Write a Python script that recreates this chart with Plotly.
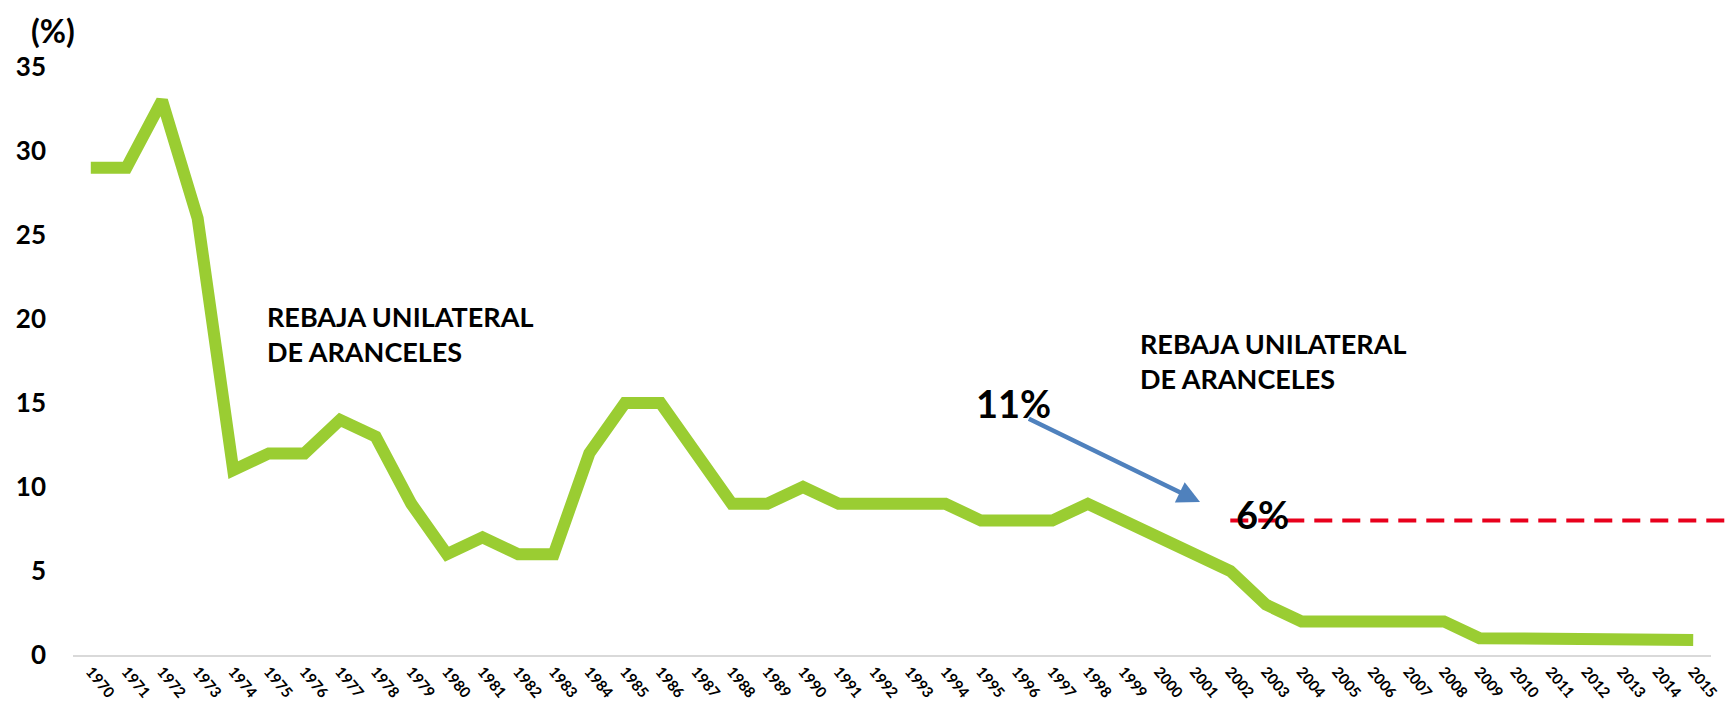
import plotly.graph_objects as go

years = [str(y) for y in range(1970, 2016)]
tariff = [29, 29, 33, 26, 11, 12, 12, 14, 13, 9, 6, 7, 6, 6, 12, 15, 15, 12, 9, 9,
          10, 9, 9, 9, 9, 8, 8, 8, 9, 8, 7, 6, 5, 3, 2, 2, 2, 2, 2, 1,
          1, 1, 1, 1, 0.9, 0.9]
y_ticks = [0, 5, 10, 15, 20, 25, 30, 35]
target_level = 8
target_start = "2002"

FONT = "Lato"
GREEN = "#9ACD32"

fig = go.Figure()
fig.add_trace(go.Scatter(
    x=years, y=tariff, mode="lines",
    line=dict(color=GREEN, width=12, shape="linear"),
    hoverinfo="x+y", showlegend=False,
))

n = len(years)
x0_paper = (years.index(target_start) + 0.5) / n
fig.add_shape(type="line", xref="paper", yref="y",
              x0=x0_paper, x1=1.02, y0=target_level, y1=target_level,
              line=dict(color="#E8001C", width=4, dash="18px,10px"))

annos = [
    dict(text="<b>(%)</b>", xref="paper", yref="paper", x=-0.012, y=1.062,
         xanchor="center", yanchor="middle", showarrow=False,
         font=dict(size=32, family=FONT, color="black")),
    dict(text="<b>REBAJA UNILATERAL<br>DE ARANCELES</b>", xref="x", yref="y",
         x=4.9, y=19.1, xanchor="left", yanchor="middle", align="left", showarrow=False,
         font=dict(size=27, family=FONT, color="black")),
    dict(text="<b>REBAJA UNILATERAL<br>DE ARANCELES</b>", xref="x", yref="y",
         x=29.4, y=17.5, xanchor="left", yanchor="middle", align="left", showarrow=False,
         font=dict(size=27, family=FONT, color="black")),
    dict(text="<b>11%</b>", xref="x", yref="y", x=25.9, y=15.0,
         xanchor="center", yanchor="middle", showarrow=False,
         font=dict(size=38, family=FONT, color="black")),
    dict(text="<b>6%</b>", xref="x", yref="y", x=32.9, y=8.4,
         xanchor="center", yanchor="middle", showarrow=False,
         font=dict(size=38, family=FONT, color="black")),
    dict(text="", xref="x", yref="y", x=31.15, y=9.1,
         axref="x", ayref="y", ax=26.3, ay=14.1,
         showarrow=True, arrowhead=2, arrowsize=1.0, arrowwidth=4.5,
         arrowcolor="#4F81BD"),
]

fig.update_layout(
    width=1733, height=705,
    margin=dict(l=65, r=30, t=59, b=58),
    paper_bgcolor="white", plot_bgcolor="white",
    annotations=annos,
    font=dict(family=FONT, color="black"),
)
fig.update_xaxes(
    type="category", categoryorder="array", categoryarray=years,
    tickangle=50, tickfont=dict(size=15, family=FONT, color="black", weight="bold"),
    showgrid=False, showline=True, linecolor="#D9D9D9", linewidth=2,
    ticks="", zeroline=False, range=[-0.5, n - 0.5], automargin=False,
)
fig.update_yaxes(
    range=[0, 35], tickvals=y_ticks, ticktext=[str(v) for v in y_ticks],
    tickfont=dict(size=26, family=FONT, color="black", weight="bold"),
    showgrid=False, showline=False, zeroline=False, ticks="",
    ticklabelstandoff=26, automargin=False,
)

fig.write_html("out.html")
